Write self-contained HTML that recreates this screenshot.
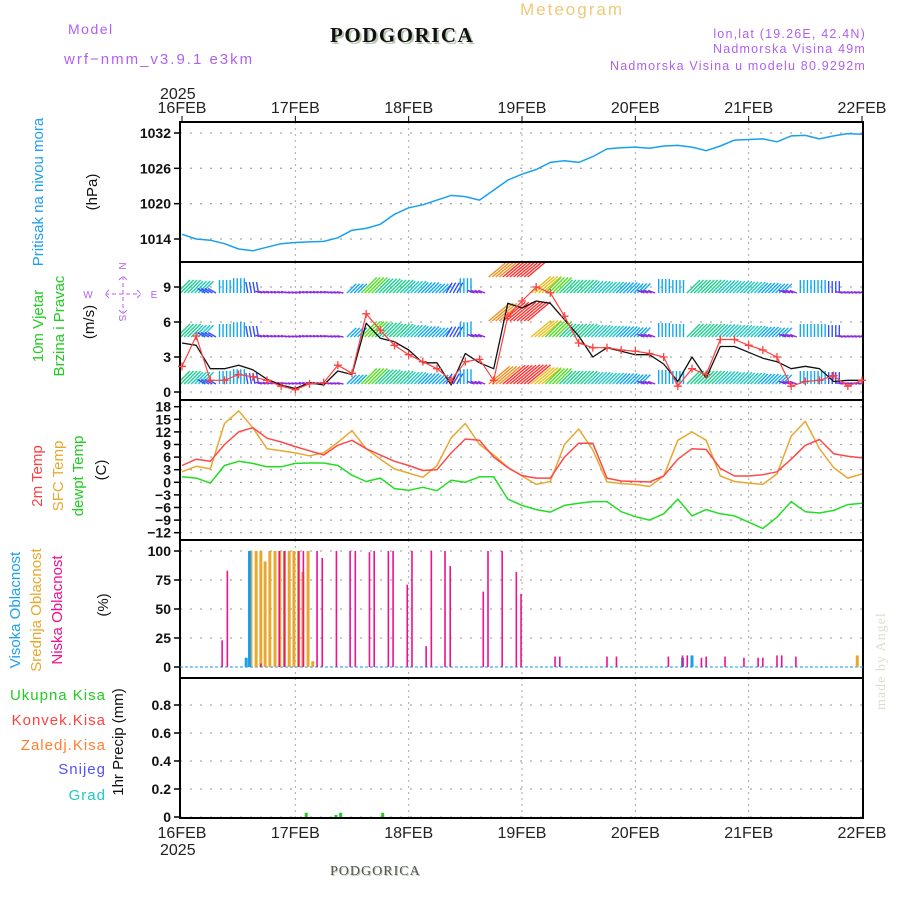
<!DOCTYPE html>
<html><head><meta charset="utf-8">
<style>
body{margin:0;background:#fff;}
#wrap{position:relative;width:900px;height:900px;overflow:hidden;background:#fff;}
svg{position:absolute;left:0;top:0;}
text{font-family:"Liberation Sans",sans-serif;}
</style></head>
<body>
<div id="wrap">
<svg id="chart" width="900" height="900" viewBox="0 0 900 900">
  <defs><clipPath id="wclip"><rect x="181" y="263" width="681" height="136"/></clipPath></defs>
  <text x="68" y="34" font-size="14" fill="#b060f0" letter-spacing="1.5">Model</text>
  <text x="64" y="64" font-size="15" fill="#b060f0" letter-spacing="2">wrf−nmm_v3.9.1 e3km</text>
  <text x="332" y="44" font-size="21" font-weight="bold" fill="#b8c8b0" letter-spacing="1.5" style="font-family:'Liberation Serif',serif">PODGORICA</text>
  <text x="330" y="42" font-size="21" font-weight="bold" fill="#111" letter-spacing="1.5" style="font-family:'Liberation Serif',serif">PODGORICA</text>
  <text x="520" y="15" font-size="17" fill="#f0c878" letter-spacing="2">Meteogram</text>
  <text x="866" y="38" font-size="12.5" fill="#b060f0" text-anchor="end" letter-spacing="1.2">lon,lat (19.26E, 42.4N)</text>
  <text x="866" y="53" font-size="12.5" fill="#b060f0" text-anchor="end" letter-spacing="1.2">Nadmorska Visina 49m</text>
  <text x="866" y="70" font-size="12.5" fill="#b060f0" text-anchor="end" letter-spacing="1.2">Nadmorska Visina u modelu 80.9292m</text>
  <text x="160" y="99" font-size="16" fill="#222">2025</text>
  <text x="160" y="855" font-size="16" fill="#222">2025</text>
  <text x="331" y="876" font-size="14" fill="#b8c8b0" style="font-family:'Liberation Serif',serif" letter-spacing="1">PODGORICA</text>
  <text x="330" y="875" font-size="14" fill="#555" style="font-family:'Liberation Serif',serif" letter-spacing="1">PODGORICA</text>
  <text transform="translate(885,710) rotate(-90)" font-size="14" fill="#d8e0d0" style="font-family:'Liberation Serif',serif" letter-spacing="1">made by Angel</text>

  <text transform="translate(43,192) rotate(-90)" font-size="15" fill="#20a0f0" text-anchor="middle">Pritisak na nivou mora</text>
  <text transform="translate(97,192) rotate(-90)" font-size="15" fill="#111" text-anchor="middle">(hPa)</text>

  <text transform="translate(43,326) rotate(-90)" font-size="15" fill="#22cc22" text-anchor="middle">10m Vjetar</text>
  <text transform="translate(64,326) rotate(-90)" font-size="15" fill="#22cc22" text-anchor="middle">Brzina i Pravac</text>
  <text transform="translate(94,322) rotate(-90)" font-size="15" fill="#111" text-anchor="middle">(m/s)</text>
  <g font-size="10" fill="#b060f0">
    <text x="123" y="270" text-anchor="middle" transform="rotate(90 123 266)">N</text>
    <text x="88" y="298" text-anchor="middle">W</text>
    <text x="154" y="298" text-anchor="middle">E</text>
    <text x="123" y="322" text-anchor="middle" transform="rotate(90 123 318)">S</text>
    <path d="M123,276V314M105,294H141M109,290l-4,4l4,4M137,290l4,4l-4,4M119,280l4,-4l4,4M119,310l4,4l4,-4" stroke="#b060f0" fill="none" stroke-dasharray="4,3"/>
  </g>

  <text transform="translate(42,476) rotate(-90)" font-size="15" fill="#ff4040" text-anchor="middle">2m Temp</text>
  <text transform="translate(63,476) rotate(-90)" font-size="15" fill="#e8a830" text-anchor="middle">SFC Temp</text>
  <text transform="translate(83,476) rotate(-90)" font-size="15" fill="#22cc22" text-anchor="middle">dewpt Temp</text>
  <text transform="translate(106,470) rotate(-90)" font-size="15" fill="#111" text-anchor="middle">(C)</text>

  <text transform="translate(20,610) rotate(-90)" font-size="15" fill="#20a0f0" text-anchor="middle">Visoka Oblacnost</text>
  <text transform="translate(41,610) rotate(-90)" font-size="15" fill="#e8a830" text-anchor="middle">Srednja Oblacnost</text>
  <text transform="translate(62,610) rotate(-90)" font-size="15" fill="#f01090" text-anchor="middle">Niska Oblacnost</text>
  <text transform="translate(108,605) rotate(-90)" font-size="15" fill="#111" text-anchor="middle">(%)</text>

  <g font-size="15" text-anchor="end" letter-spacing="1">
    <text x="106" y="700" fill="#22cc22">Ukupna  Kisa</text>
    <text x="106" y="725" fill="#ff4040">Konvek.Kisa</text>
    <text x="106" y="750" fill="#ff8030">Zaledj.Kisa</text>
    <text x="106" y="774" fill="#5050ff">Snijeg</text>
    <text x="106" y="800" fill="#20c8c8">Grad</text>
  </g>
  <text transform="translate(123,742) rotate(-90)" font-size="15" fill="#111" text-anchor="middle">1hr Precip (mm)</text>
  <g id="plot"></g>
</svg>
</div>
<script>
// ---- data (3-hourly, starting 16FEB 00h) ----
const dayLabels = ["16FEB","17FEB","18FEB","19FEB","20FEB","21FEB","22FEB"];
const pressure = [1014.8,1014.0,1013.8,1013.2,1012.3,1012.0,1012.6,1013.2,1013.4,1013.5,1013.6,1014.2,1015.5,1015.8,1016.5,1018.2,1019.3,1019.8,1020.6,1021.4,1021.2,1020.6,1022.3,1024.0,1025.0,1025.8,1027.0,1027.3,1027.0,1028.0,1029.3,1029.5,1029.6,1029.4,1029.8,1029.9,1029.6,1029.0,1029.8,1030.8,1030.9,1031.0,1030.5,1031.5,1031.6,1031.0,1031.5,1031.9,1031.8];
const pressureTicks = [1014,1020,1026,1032];
const windSpeed = [4.2,4.0,2.0,2.0,2.3,1.9,1.1,0.6,0.3,0.8,0.6,1.8,1.5,5.9,4.6,4.3,3.6,2.5,2.5,0.6,3.3,2.5,2.0,7.6,7.2,7.8,7.6,6.2,4.8,3.0,3.8,3.5,3.2,3.2,2.4,0.9,3.0,1.2,3.9,3.9,3.4,2.9,2.6,2.0,2.2,2.0,0.9,1.0,1.0];
const windGust = [2.2,4.8,1.0,1.0,1.5,1.3,1.0,0.5,0.2,0.7,0.8,2.3,1.6,6.7,5.3,4.0,3.2,2.6,2.0,1.0,2.6,2.8,1.0,6.5,7.8,9.0,8.5,6.5,4.2,3.8,3.8,3.6,3.5,3.3,3.0,0.5,2.0,1.5,4.5,4.5,4.0,3.6,3.0,0.5,0.9,1.0,1.4,0.5,1.0];
const barbSpeed = [4,3.5,2,2.5,3,2,1.2,1,1,1,1,1.2,2.5,5,4.5,4,3.5,3,2.5,2.2,3,1.5,6.5,7,7.2,6,5,4,4,3.5,3.2,3,2.6,1.5,2.8,2.5,4,4,3.8,3.5,3.2,2.8,2.5,1.5,2.5,2.5,2.2,1.2,1.2];
const barbAngle = [45,45,150,90,90,100,165,165,170,165,165,170,45,45,45,45,45,45,45,60,90,160,40,40,40,40,45,45,45,45,45,45,45,160,90,90,45,45,45,45,45,45,45,160,90,90,90,170,170];
const windTicks = [0,3,6,9];
const temp2m = [4.0,5.5,5.0,9.0,12.0,13.0,10.5,9.6,8.5,7.5,6.5,8.8,10.0,8.0,6.5,5.0,4.0,2.8,3.0,7.0,10.3,10.0,6.0,3.5,1.6,1.0,1.0,6.0,9.3,9.3,1.0,0.3,0.2,0.1,1.5,5.5,8.0,7.8,3.3,1.5,1.5,1.8,2.5,5.5,8.8,10.2,6.8,6.2,5.8];
const tempSfc = [2.5,3.8,3.2,14.0,17.0,13.0,8.0,7.5,7.0,6.3,7.0,9.5,12.3,8.0,5.5,3.2,2.2,1.2,4.0,10.6,14.0,9.0,6.5,3.6,1.5,-0.5,0.2,9.0,12.7,7.7,0.1,-0.3,-0.5,-1.0,1.5,10.0,12.0,10.0,1.5,0.2,-0.2,-0.5,2.0,11.0,14.5,8.0,3.5,1.0,2.0];
const dewpt = [1.3,1.0,-0.2,4.0,5.0,4.5,3.7,3.7,4.5,4.6,4.6,4.0,1.7,0.2,1.0,-1.5,-1.9,-1.2,-2.0,0.5,0.0,1.3,1.3,-4.0,-5.5,-6.5,-7.1,-5.5,-5.0,-4.6,-4.6,-7.0,-8.2,-9.0,-7.5,-4.0,-8.0,-6.5,-7.5,-8.0,-9.5,-11.0,-8.3,-4.6,-7.0,-7.3,-6.7,-5.3,-5.0];
const tempTicks = [-12,-9,-6,-3,0,3,6,9,12,15,18];
const lowHours = [8.5,9.6,16.7,20.6,21.7,24.7,25.7,28.6,29.7,32.7,35.6,36.7,39.7,40.7,43.7,44.7,47.7,48.7,51.7,52.8,55.7,56.8,63.8,64.8,67.8,70.8,71.8,79,80,90,92,103,106,107,110,111,115,119,122,123,126,127,130];
const lowValues = [23,83,3,100,100,100,100,100,94,100,100,100,99,100,100,100,71,100,18,100,100,87,65,100,100,82,63,9,9,9,9,9,10,10,8,9,9,8,8,8,10,10,9];
const midHours = [14.6,15.7,16.7,17.6,18.6,19.7,20.7,21.7,22.7,23.7,24.7,25.6,26.7,27.7,143];
const midValues = [100,100,100,91,100,100,100,100,100,100,100,82,100,5,10];
const highHours = [13.6,14.3,106,108];
const highValues = [8,100,8,10];
const cloudTicks = [0,25,50,75,100];
const precipHours = [26.3,32.6,33.6,42.5];
const precipValues = [0.03,0.015,0.03,0.03];
const precipTicks = [0,0.2,0.4,0.6,0.8];

// ---- layout ----
const X0=182, X1=862, FL=180, FR=863, HOURS=144;
const panels = {
  p:{top:122,bot:262,v0:1014,y0:239,v1:1032,y1:133},
  w:{top:262,bot:400,v0:0,y0:392,v1:9,y1:287},
  t:{top:400,bot:540,v0:-12,y0:532.7,v1:18,y1:406.7},
  c:{top:540,bot:678,v0:0,y0:667,v1:100,y1:551},
  r:{top:678,bot:818,v0:0,y0:817,v1:0.8,y1:705}
};
const xH = h => X0 + h*(X1-X0)/HOURS;
const xI = i => xH(i*3);
const yOf = (p,v) => p.y0 + (v-p.v0)*(p.y1-p.y0)/(p.v1-p.v0);
const NS="http://www.w3.org/2000/svg";
const plot=document.getElementById('plot');
function mk(tag,attrs,parent){const e=document.createElementNS(NS,tag);for(const k in attrs)e.setAttribute(k,attrs[k]);(parent||plot).appendChild(e);return e;}

function grid(p,ticks,fmt,name){
  const g=mk('g',{});
  
  
  for(let d=1;d<6;d++){const x=xH(d*24);const l=mk('line',{x1:x,x2:x,y1:p.top,y2:p.bot,stroke:'#aaa','stroke-dasharray':'2,4','stroke-width':1},g);
    
    }
  ticks.forEach(v=>{const y=yOf(p,v);
    const l=mk('line',{x1:FL,x2:FR,y1:y,y2:y,stroke:'#aaa','stroke-dasharray':'2,8','stroke-width':1.3},g);
    
    
    mk('line',{x1:FL-6,x2:FL,y1:y,y2:y,stroke:'#000','stroke-width':1.5},g);
    const t=mk('text',{x:FL-9,y:y+5,'font-size':14,'font-weight':'bold','text-anchor':'end',fill:'#111'},g);
    t.textContent=fmt(v);
    
    
  });
  const r=mk('rect',{x:FL,y:p.top,width:FR-FL,height:p.bot-p.top,fill:'none',stroke:'#000','stroke-width':2},g);
  
  
}
grid(panels.p,pressureTicks,v=>v,'pressure');
grid(panels.w,windTicks,v=>v,'wind');
grid(panels.t,tempTicks,v=>v<0?'−'+(-v):v,'temp');
grid(panels.c,cloudTicks,v=>v,'cloud');
grid(panels.r,precipTicks,v=>v===0?'0':v.toFixed(1),'precip');

dayLabels.forEach((d,i)=>{const x=xH(i*24);
  const t=mk('text',{x:x,y:113,'font-size':16,'text-anchor':'middle',fill:'#222'});t.textContent=d;
  
  
  mk('line',{x1:x,x2:x,y1:116,y2:122,stroke:'#000'});
  const b=mk('text',{x:x,y:838,'font-size':16,'text-anchor':'middle',fill:'#222'});b.textContent=d;
  
  
});

function line(p,arr,color,name,w){
  const d=arr.map((v,i)=>(i?'L':'M')+xI(i).toFixed(1)+','+yOf(p,v).toFixed(1)).join('');
  const e=mk('path',{d:d,fill:'none',stroke:color,'stroke-width':w||1.4,'stroke-linejoin':'round'});
  
  
  return e;
}
line(panels.p,pressure,'#18a0f0','pressure-line',1.5);

// wind barbs
function spdColor(s){
  const stops=[[1.6,'#8a2be2'],[2.3,'#3050ff'],[3.1,'#10a8f0'],[3.8,'#20c8c0'],[4.5,'#20d090'],[5.5,'#50e020'],[6.2,'#e8c020'],[6.9,'#f09020'],[7.5,'#ff3030']];
  for(const [v,c] of stops){if(s<=v)return c;} return '#ff2050';
}
const wg=mk('g',{'clip-path':'url(#wclip)'});


const rows=[293,337,384];
rows.forEach((ry,ri)=>{
  barbSpeed.forEach((s,i)=>{
    for(let k=0;k<4;k++){
      const x=xI(i)+k*3.55-5;
      const a=barbAngle[i]*Math.PI/180;
      const L=(barbAngle[i]>120)? 3+s*3 : 4+s*3.6;
      const lift=(s>6 && ri<2)? -16 : 0;
      const y=ry+lift;
      const e=mk('line',{x1:x,y1:y,x2:x+Math.cos(a)*L,y2:y-Math.sin(a)*L,stroke:spdColor(s),'stroke-width':1.4},wg);
      
      
    }
  });
});
line(panels.w,windSpeed,'#111','wind-speed-line',1.3);
line(panels.w,windGust,'#ff4040','wind-gust-line',1.2);
windGust.forEach((v,i)=>{const x=xI(i),y=yOf(panels.w,v);
  const g=mk('path',{d:`M${x-4},${y}H${x+4}M${x},${y-4}V${y+4}`,stroke:'#ff4040','stroke-width':1.3});
  
  
});

line(panels.t,dewpt,'#22dd22','dewpt-line',1.5);
line(panels.t,tempSfc,'#e8a830','sfc-temp-line',1.5);
line(panels.t,temp2m,'#ff4848','temp-2m-line',1.5);

function bars(p,hours,vals,color,w,name){
  hours.forEach((h,i)=>{const x=xH(h);const y=yOf(p,vals[i]);const y0=yOf(p,0);
    const r=mk('rect',{x:x-w/2,y:y,width:w,height:y0-y,fill:color});
    
    
  });
}
mk('line',{x1:FL,x2:FR,y1:yOf(panels.c,0),y2:yOf(panels.c,0),stroke:'#20a0f0','stroke-width':1,'stroke-dasharray':'3,2'});
bars(panels.c,midHours,midValues,'#e8a830',3,'mid-cloud-bar');
bars(panels.c,highHours,highValues,'#18a0f0',3,'high-cloud-bar');
bars(panels.c,lowHours,lowValues,'#f01090',1.6,'low-cloud-bar');

bars(panels.r,precipHours,precipValues,'#22cc22',3,'precip-bar');
</script>
</body></html>
